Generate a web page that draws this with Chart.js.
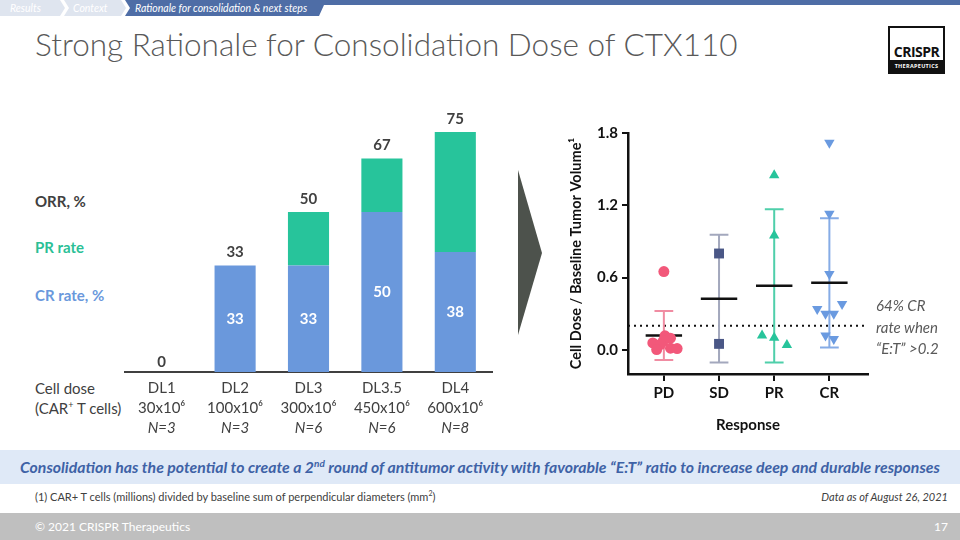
<!DOCTYPE html>
<html>
<head>
<meta charset="utf-8">
<script src="https://cdn.jsdelivr.net/npm/chart.js@4.4.0/dist/chart.umd.min.js"></script>
<style>
  body { margin: 0; width: 960px; height: 540px; position: relative; overflow: hidden; background: #fff;
         font-family: Lato, "Open Sans", sans-serif; color: #404040; }
  .abs { position: absolute; white-space: nowrap; }
  #title { left: 35px; top: 26px; font-size: 31.5px; font-weight: 300; color: #595959; line-height: 1.2; }
  .lbl { font-size: 15px; font-weight: bold; line-height: 18px; }
  .logo { left: 888px; top: 26px; width: 53px; height: 44px; border: 2px solid #111; background: #fff; }
  .logo .name { position: absolute; left: 0; right: 0; top: 14px; text-align: center; font: bold 14px "Open Sans", sans-serif; color: #111; letter-spacing: -0.5px; }
  .logo .band { position: absolute; left: 0; right: 0; bottom: 0; height: 12px; background: #111; color: #fff; font: bold 5.5px "Open Sans", sans-serif; text-align: center; line-height: 12px; letter-spacing: 0.3px; }
  #banner { left: 0; top: 450px; width: 960px; height: 34px; background: #dfe9f7; color: #3e62a6; font-size: 15.8px; font-weight: bold; font-style: italic; text-align: center; line-height: 34px; }
  #foot { left: 0; top: 513px; width: 960px; height: 27px; background: #bfbfbf; color: #fff; font-size: 12px; line-height: 27px; }
  sup { line-height: 0; }
</style>
</head>
<body>

<svg class="abs" style="left:0;top:0" width="960" height="18">
  <polygon points="0,0 60,0 65,8 60,16 0,16" fill="#dfe5ef"/>
  <polygon points="64,0 121,0 126,8 121,16 64,16 69,8" fill="#dfe5ef"/>
  <polygon points="125,0 960,0 960,5 324,5 319,16 125,16 130,8" fill="#4e6da6"/>
  <text x="10" y="12" fill="#fff" font-size="10.5" font-style="italic" font-family="Lato, sans-serif">Results</text>
  <text x="73" y="12" fill="#fff" font-size="10.5" font-style="italic" font-family="Lato, sans-serif">Context</text>
  <text x="135" y="12" fill="#fff" font-size="10.5" font-style="italic" font-family="Lato, sans-serif">Rationale for consolidation &amp; next steps</text>
</svg>

<div id="title" class="abs">Strong Rationale for Consolidation Dose of CTX110</div>

<div class="abs logo"><div class="name">CRISPR</div><div class="band">THERAPEUTICS</div></div>

<div class="abs lbl" style="left:35px;top:192px;color:#404040">ORR, %</div>
<div class="abs lbl" style="left:35px;top:238px;color:#2bbf96">PR rate</div>
<div class="abs lbl" style="left:35px;top:286px;color:#6a98dc">CR rate, %</div>
<div class="abs" style="left:35px;top:378px;font-size:15px;line-height:20px">Cell dose<br>(CAR<sup style="font-size:9px">+</sup> T cells)</div>

<div class="abs" style="left:20px;top:100px;width:480px;height:350px"><canvas id="barChart"></canvas></div>

<svg class="abs" style="left:515px;top:168px" width="30" height="170">
  <polygon points="3,2 27,85 3,167" fill="#4d524c"/>
</svg>

<div class="abs" style="left:560px;top:110px;width:400px;height:330px"><canvas id="dotChart"></canvas></div>

<div class="abs" style="left:876px;top:295px;font-size:15px;font-style:italic;color:#595959;line-height:21.5px">64% CR<br>rate when<br>“E:T” &gt;0.2</div>

<div id="banner" class="abs">Consolidation has the potential to create a 2<sup style="font-size:10px">nd</sup> round of antitumor activity with favorable “E:T” ratio to increase deep and durable responses</div>

<div class="abs" style="left:35px;top:490px;font-size:11px;color:#404040">(1) CAR+ T cells (millions) divided by baseline sum of perpendicular diameters (mm<sup style="font-size:7px">2</sup>)</div>
<div class="abs" style="right:12px;top:490px;font-size:11px;font-style:italic;color:#404040">Data as of August 26, 2021</div>

<div id="foot" class="abs"><span style="margin-left:35px">© 2021 CRISPR Therapeutics</span><span style="position:absolute;right:12px">17</span></div>

<script>
// left chart: response rates by dose level
const doseLevels = ["DL1", "DL2", "DL3", "DL3.5", "DL4"];
const cellDoses = ["30x10⁶", "100x10⁶", "300x10⁶", "450x10⁶", "600x10⁶"];
const patientsN = ["N=3", "N=3", "N=6", "N=6", "N=8"];
const crRate = [0, 33.3, 33.3, 50, 37.5];
const prRate = [0, 0, 16.7, 16.7, 37.5];

// right chart: cell dose / baseline tumor volume by response
const responses = ["PD", "SD", "PR", "CR"];
const pdValues = [0.65, 0.117, 0.097, 0.075, 0.058, 0.047, 0.014, 0.011, 0.003];
const pdJitter = [0, 0.02, 0.12, -0.01, -0.2, -0.06, 0.12, 0.24, -0.13];
const sdValues = [0.80, 0.05];
const sdJitter = [0, 0];
const prValues = [1.45, 0.95, 0.12, 0.10, 0.04];
const prJitter = [0, 0, -0.22, 0, 0.23];
const crValues = [1.72, 1.13, 0.63, 0.38, 0.34, 0.30, 0.30, 0.12, 0.09];
const crJitter = [0, 0, 0, 0.23, -0.22, -0.07, 0.08, -0.07, 0.08];
const yTicks = [0, 0.6, 1.2, 1.8];
const threshold = 0.2;

const FONT = "Lato, 'Open Sans', sans-serif";

// value labels and category labels for the bar chart
const barLabels = {
    id: "barLabels",
    afterDatasetsDraw(chart) {
        const ctx = chart.ctx;
        const crMeta = chart.getDatasetMeta(0);
        const prMeta = chart.getDatasetMeta(1);
        const xs = chart.scales.x;
        const area = chart.chartArea;
        ctx.save();
        ctx.textAlign = "center";
        ctx.textBaseline = "middle";
        doseLevels.forEach((d, i) => {
            const crBar = crMeta.data[i];
            const prBar = prMeta.data[i];
            if (crRate[i] > 0) {
                ctx.font = "bold 15px " + FONT;
                ctx.fillStyle = "#ffffff";
                ctx.fillText(Math.round(crRate[i]), crBar.x, (crBar.y + crBar.base) / 2);
            }
            const top = Math.min(crBar.y, prBar.y);
            ctx.font = "bold 15px " + FONT;
            ctx.fillStyle = "#404040";
            ctx.fillText(Math.round(crRate[i] + prRate[i]), crBar.x, top - (top === crBar.base ? 10 : 13));

            const x = xs.getPixelForValue(i);
            ctx.font = "15px " + FONT;
            ctx.fillText(d, x, area.bottom + 16);
            ctx.fillText(cellDoses[i], x, area.bottom + 36);
            ctx.font = "italic 15px " + FONT;
            ctx.fillText(patientsN[i], x, area.bottom + 56);
        });
        ctx.restore();
    }
};

new Chart(document.getElementById("barChart"), {
    type: "bar",
    data: {
        labels: doseLevels,
        datasets: [
            { label: "CR rate", data: crRate, backgroundColor: "#6a98dc", barPercentage: 0.7, categoryPercentage: 0.8 },
            { label: "PR rate", data: prRate, backgroundColor: "#27c49b", barPercentage: 0.7, categoryPercentage: 0.8 }
        ]
    },
    options: {
        responsive: true,
        maintainAspectRatio: false,
        animation: false,
        layout: { padding: { left: 105, right: 8, top: 16, bottom: 70 } },
        plugins: { legend: { display: false }, tooltip: { enabled: false } },
        scales: {
            x: {
                stacked: true,
                grid: { display: false },
                border: { display: true, color: "#404040", width: 2 },
                ticks: { display: false }
            },
            y: { stacked: true, display: false, min: 0, max: 80 }
        }
    },
    plugins: [barLabels]
});

// build mean and SD marks from each group
const groups = [
    { values: pdValues, jitter: pdJitter, color: "#f2587a", err: "#f08ca2", style: "circle", radius: 5.5, rotation: 0 },
    { values: sdValues, jitter: sdJitter, color: "#4a5786", err: "#a3a8bd", style: "rect", radius: 7, rotation: 0 },
    { values: prValues, jitter: prJitter, color: "#27c49b", err: "#4fcfaa", style: "triangle", radius: 6, rotation: 0 },
    { values: crValues, jitter: crJitter, color: "#6a9ae0", err: "#86ace6", style: "triangle", radius: 6, rotation: 180 }
];

const datasets = [];
const meanLine = [];
groups.forEach((g, gi) => {
    const pos = gi + 1;
    const n = g.values.length;
    const mean = g.values.reduce((a, b) => a + b, 0) / n;
    const sd = Math.sqrt(g.values.reduce((a, b) => a + (b - mean) * (b - mean), 0) / (n - 1));
    const hi = mean + sd, lo = mean - sd;
    datasets.push({
        type: "scatter",
        data: g.values.map((v, i) => ({ x: pos + g.jitter[i], y: v })),
        backgroundColor: g.color,
        borderColor: g.color,
        borderWidth: 0,
        pointStyle: g.style,
        pointRadius: g.radius,
        rotation: g.rotation,
        order: 0
    });
    datasets.push({
        type: "line",
        data: [
            { x: pos - 0.17, y: hi }, { x: pos + 0.17, y: hi }, { x: pos, y: null },
            { x: pos, y: hi }, { x: pos, y: lo }, { x: pos, y: null },
            { x: pos - 0.17, y: lo }, { x: pos + 0.17, y: lo }
        ],
        borderColor: g.err,
        borderWidth: 2,
        pointRadius: 0,
        spanGaps: false,
        order: 2
    });
    meanLine.push({ x: pos - 0.33, y: mean }, { x: pos + 0.33, y: mean }, { x: pos, y: null });
});
datasets.push({ type: "line", data: meanLine, borderColor: "#111", borderWidth: 2.5, pointRadius: 0, spanGaps: false, order: 1 });
datasets.push({
    type: "line",
    data: [{ x: 0.35, y: threshold }, { x: 4.7, y: threshold }],
    borderColor: "#111", borderWidth: 2, borderDash: [2, 4], pointRadius: 0, order: 3
});

new Chart(document.getElementById("dotChart"), {
    type: "scatter",
    data: { datasets },
    options: {
        responsive: true,
        maintainAspectRatio: false,
        animation: false,
        layout: { padding: { left: 8, right: 92, top: 23, bottom: 2 } },
        plugins: { legend: { display: false }, tooltip: { enabled: false } },
        scales: {
            x: {
                type: "linear",
                min: 0.35,
                max: 4.7,
                afterBuildTicks: (s) => { s.ticks = responses.map((r, i) => ({ value: i + 1 })); },
                afterFit: (s) => { s.height = 64; },
                ticks: {
                    callback: (v) => responses[v - 1],
                    color: "#111", font: { family: FONT, size: 15, weight: "bold" }, padding: 3
                },
                grid: { drawOnChartArea: false, drawTicks: true, tickLength: 7, color: "#111", lineWidth: 2 },
                border: { display: true, color: "#111", width: 2.5 },
                title: { display: true, text: "Response", color: "#111", font: { family: FONT, size: 15, weight: "bold" } }
            },
            y: {
                min: -0.2,
                max: 1.8,
                afterBuildTicks: (s) => { s.ticks = yTicks.map((v) => ({ value: v })); },
                afterFit: (s) => { s.width = 60; },
                ticks: {
                    callback: (v) => v.toFixed(1),
                    color: "#111", font: { family: FONT, size: 15, weight: "bold" }, padding: 4
                },
                grid: { drawOnChartArea: false, drawTicks: true, tickLength: 6, color: "#111", lineWidth: 2 },
                border: { display: true, color: "#111", width: 2.5 },
                title: { display: true, text: "Cell Dose / Baseline Tumor Volume¹", color: "#111", font: { family: FONT, size: 14.5, weight: "bold" }, padding: 0 }
            }
        }
    }
});
</script>
</body>
</html>
